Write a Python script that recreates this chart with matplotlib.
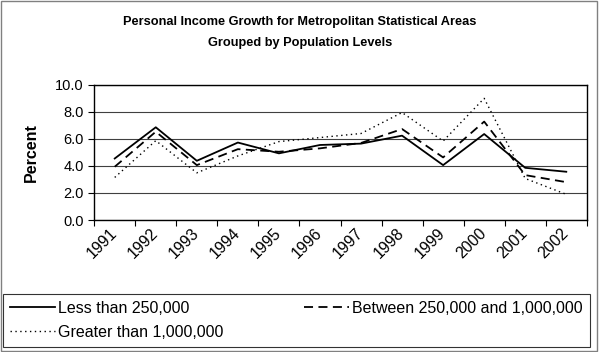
import matplotlib
matplotlib.use("Agg")
import matplotlib.pyplot as plt
import numpy as np

plt.rcParams['font.family'] = ['Liberation Sans', 'DejaVu Sans']

years = ['1991', '1992', '1993', '1994', '1995', '1996',
         '1997', '1998', '1999', '2000', '2001', '2002']
less_250k = [4.55, 6.86, 4.38, 5.73, 4.93, 5.55, 5.65, 6.24, 4.06, 6.36, 3.86, 3.57]
between = [3.94, 6.53, 4.06, 5.24, 5.05, 5.3, 5.7, 6.73, 4.63, 7.28, 3.32, 2.8]
greater_1m = [3.15, 5.87, 3.49, 4.74, 5.8, 6.1, 6.4, 7.95, 5.84, 9.0, 3.07, 1.9]

fig = plt.figure(figsize=(6, 3.52), dpi=100)
ax = fig.add_axes([0.157, 0.375, 0.821, 0.384])

x = np.arange(len(years)) + 0.5
l1, = ax.plot(x, less_250k, color='black', linewidth=1.3, linestyle='-', label='Less than 250,000')
l2, = ax.plot(x, between, color='black', linewidth=1.3, linestyle=(0, (5, 3)), label='Between 250,000 and 1,000,000')
l3, = ax.plot(x, greater_1m, color='black', linewidth=1.0, linestyle=(0, (1, 2.5)), label='Greater than 1,000,000')

ax.set_xlim(0, len(years))
ax.set_ylim(0, 10)
ax.set_yticks(np.arange(0, 10.1, 2))
ax.set_yticklabels(['{:.1f}'.format(v) for v in np.arange(0, 10.1, 2)], fontsize=10.5)
ax.yaxis.grid(True, color='#404040', linewidth=0.8)
ax.set_axisbelow(True)

ax.set_xticks(np.arange(0, len(years) + 1))
ax.set_xticklabels([])
ax.set_xticks(x, minor=True)
ax.set_xticklabels(years, minor=True, rotation=45, ha='right', va='center',
                   rotation_mode='anchor', fontsize=11.5)
ax.tick_params(axis='x', which='minor', length=0, pad=8)
ax.tick_params(axis='both', which='major', direction='out', length=4, color='black')

for s in ax.spines.values():
    s.set_color('black')
    s.set_linewidth(1.0)

ax.set_ylabel('Percent', fontsize=11.5, fontweight='bold', labelpad=12)

fig.text(0.5, 0.909, 'Personal Income Growth for Metropolitan Statistical Areas\nGrouped by Population Levels',
         ha='center', va='center', fontsize=9.2, fontweight='bold', linespacing=2.0)

# column-wise fill: Less / Greater in first column, Between in second
leg = fig.legend(handles=[l1, l3, l2], loc='lower left', bbox_to_anchor=(0.005, 0.015, 0.978, 0.165),
                 mode='expand', ncol=2, fontsize=11.5, frameon=True, fancybox=False,
                 handlelength=2.8, handletextpad=0.2, borderaxespad=0, labelspacing=0.55,
                 borderpad=0.45)
leg.get_frame().set_edgecolor('black')
leg.get_frame().set_linewidth(0.8)

# outer chart border
fig.patches.append(plt.Rectangle((0.002, 0.003), 0.993, 0.994, transform=fig.transFigure,
                                 fill=False, edgecolor='#808080', linewidth=1.0))

fig.savefig('out.png', dpi=100)
